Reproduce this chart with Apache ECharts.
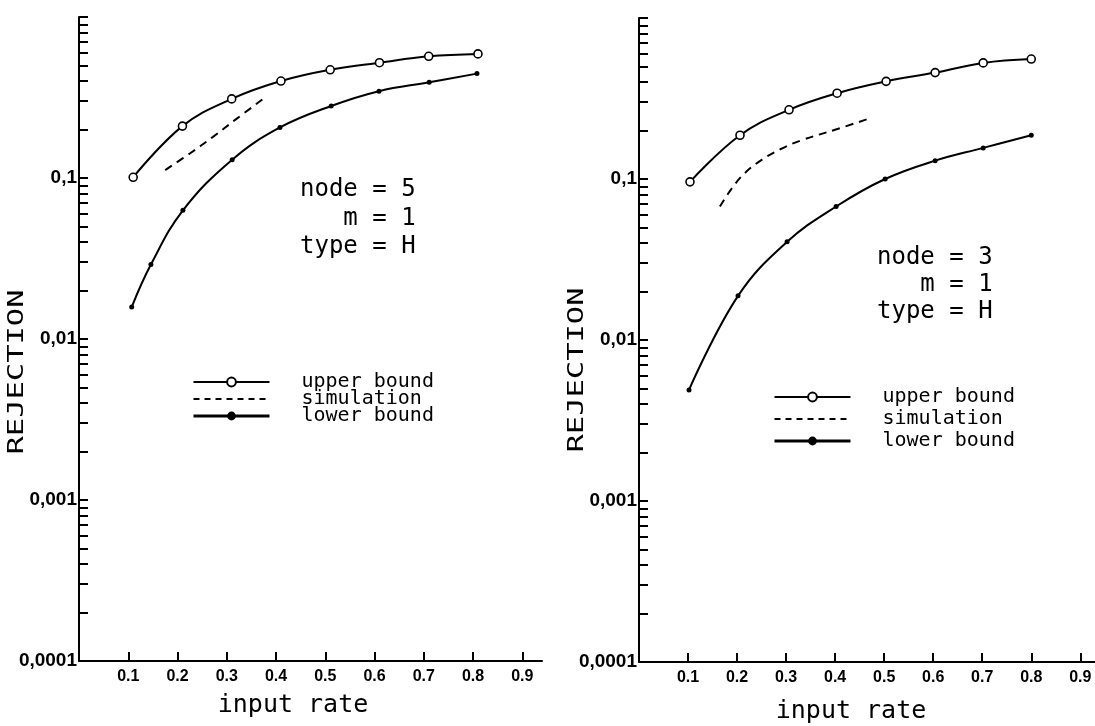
<!DOCTYPE html>
<html><head><meta charset="utf-8">
<script src="https://cdn.jsdelivr.net/npm/echarts@6/dist/echarts.min.js"></script>
<style>html,body{margin:0;padding:0;background:#fff}#c{width:1095px;height:726px}</style>
</head><body><div id="c"></div>
<script>
// ---- tick values / labels ----
const xTickValues = [0.1, 0.2, 0.3, 0.4, 0.5, 0.6, 0.7, 0.8, 0.9];
const xTickLabels = ['0.1', '0.2', '0.3', '0.4', '0.5', '0.6', '0.7', '0.8', '0.9'];
const yTickValues = [0.0001, 0.001, 0.01, 0.1];
const yTickLabels = ['0,0001', '0,001', '0,01', '0,1'];
const yAllTicks = [0.0001, 0.0002, 0.0003, 0.0004, 0.0005, 0.0006, 0.0007, 0.0008, 0.0009,
                   0.001, 0.002, 0.003, 0.004, 0.005, 0.006, 0.007, 0.008, 0.009,
                   0.01, 0.02, 0.03, 0.04, 0.05, 0.06, 0.07, 0.08, 0.09,
                   0.1, 0.2, 0.3, 0.4, 0.5, 0.6, 0.7, 0.8, 0.9, 1];
const seriesNames = ['upper bound', 'simulation', 'lower bound'];

// ---- left panel (node = 5) ----
const leftUpperX = [0.11, 0.21, 0.31, 0.41, 0.51, 0.61, 0.71, 0.81];
const leftUpperY = [0.101, 0.21, 0.31, 0.40, 0.47, 0.52, 0.57, 0.59];
const leftSimX = [0.175, 0.225, 0.272, 0.319, 0.374];
const leftSimY = [0.112, 0.142, 0.18, 0.232, 0.31];
const leftLowerX = [0.107, 0.146, 0.211, 0.311, 0.408, 0.512, 0.609, 0.711, 0.808];
const leftLowerY = [0.0158, 0.029, 0.063, 0.13, 0.206, 0.28, 0.346, 0.393, 0.445];

// ---- right panel (node = 3) ----
const rightUpperX = [0.104, 0.206, 0.306, 0.404, 0.504, 0.604, 0.702, 0.80];
const rightUpperY = [0.096, 0.187, 0.269, 0.341, 0.404, 0.458, 0.526, 0.556];
const rightSimX = [0.165, 0.19, 0.216, 0.251, 0.288, 0.329, 0.406, 0.467];
const rightSimY = [0.0675, 0.088, 0.109, 0.132, 0.153, 0.173, 0.205, 0.236];
const rightLowerX = [0.102, 0.202, 0.302, 0.402, 0.502, 0.604, 0.702, 0.80];
const rightLowerY = [0.0049, 0.0188, 0.0407, 0.0675, 0.10, 0.130, 0.156, 0.187];

const leftNote = ['node = 5', '   m = 1', 'type = H'];
const rightNote = ['node = 3', '   m = 1', 'type = H'];
const yTitle = 'REJECTION';
const xTitle = 'input rate';

const pair = (xs, ys) => xs.map((x, i) => [x, ys[i]]);
const MONO = '"DejaVu Sans Mono", "Liberation Mono", monospace';
const SANS = '"Liberation Sans", Arial, sans-serif';

function labelFor(values, labels, v) {
  for (let i = 0; i < values.length; i++) {
    if (Math.abs(Math.log10(v) - Math.log10(values[i])) < 1e-6) return labels[i];
  }
  return '';
}

function xAxisCfg(gridIndex, max) {
  return {
    type: 'value', gridIndex, min: 0, max, interval: 0.1,
    axisLine: { lineStyle: { color: '#000', width: 2 } },
    axisTick: { inside: true, length: 9, lineStyle: { color: '#000', width: 2 }, customValues: xTickValues },
    axisLabel: {
      customValues: xTickValues, margin: 8,
      formatter: v => labelFor(xTickValues, xTickLabels, v),
      color: '#000', fontSize: 16, fontWeight: 'bold', fontFamily: SANS
    },
    splitLine: { show: false }
  };
}
function yAxisCfg(gridIndex) {
  return {
    type: 'log', logBase: 10, gridIndex, min: 0.0001, max: 1,
    axisLine: { lineStyle: { color: '#000', width: 2 } },
    axisTick: { inside: true, length: 9, lineStyle: { color: '#000', width: 2 }, customValues: yAllTicks },
    axisLabel: {
      customValues: yTickValues, margin: 2,
      formatter: v => labelFor(yTickValues, yTickLabels, v),
      color: '#000', fontSize: 19, fontWeight: 'bold', fontFamily: SANS
    },
    splitLine: { show: false }, minorTick: { show: false }
  };
}
function panelSeries(idx, up, sim, low) {
  return [
    { name: seriesNames[0], type: 'line', xAxisIndex: idx, yAxisIndex: idx, data: up, smooth: 0.4,
      symbol: 'circle', symbolSize: 8,
      lineStyle: { color: '#000', width: 2 },
      itemStyle: { color: '#fff', borderColor: '#000', borderWidth: 1.6 }, z: 3 },
    { name: seriesNames[1], type: 'line', xAxisIndex: idx, yAxisIndex: idx, data: sim, smooth: 0.4,
      symbol: 'none',
      lineStyle: { color: '#000', width: 2, type: [8, 6] },
      itemStyle: { color: '#000' } },
    { name: seriesNames[2], type: 'line', xAxisIndex: idx, yAxisIndex: idx, data: low, smooth: 0.4,
      symbol: 'circle', symbolSize: 5,
      lineStyle: { color: '#000', width: 2 },
      itemStyle: { color: '#000' }, z: 3 }
  ];
}
function legendCfg(left, top, lineH, gap) {
  return {
    orient: 'vertical', left, top, itemWidth: 76, itemHeight: 11, itemGap: gap,
    selectedMode: false, padding: 0,
    data: [
      { name: seriesNames[0] },
      { name: seriesNames[1], itemStyle: { color: 'rgba(0,0,0,0)', borderColor: 'rgba(0,0,0,0)', borderWidth: 0 },
        lineStyle: { color: '#000', width: 2, type: [6, 5] } },
      { name: seriesNames[2], lineStyle: { color: '#000', width: 3 } }
    ],
    textStyle: { fontFamily: MONO, fontSize: 20, color: '#000', lineHeight: lineH, padding: [0, 0, 0, 27] }
  };
}
function noteText(lines, x, y, gap) {
  return lines.map((t, i) => ({
    type: 'text', x: x, y: y + i * gap,
    style: { text: t, font: '24px ' + MONO, fill: '#000', align: 'left', verticalAlign: 'middle' }
  }));
}
function vTitle(cx, cy) {
  return { type: 'text', x: cx, y: cy, rotation: Math.PI / 2, scaleX: 1.45,
    style: { text: yTitle, font: '21px ' + MONO, fill: '#000', align: 'center', verticalAlign: 'middle' } };
}

const chart = echarts.init(document.getElementById('c'));
chart.setOption({
  animation: false,
  backgroundColor: '#fff',
  grid: [
    { left: 79, top: 17, width: 463, height: 644 },
    { left: 639, top: 18, width: 456, height: 644 }
  ],
  xAxis: [xAxisCfg(0, 0.94), xAxisCfg(1, 0.93)],
  yAxis: [yAxisCfg(0), yAxisCfg(1)],
  legend: [legendCfg(192, 372, 17, -3), legendCfg(773, 386, 22, 0)],
  series: [
    ...panelSeries(0, pair(leftUpperX, leftUpperY), pair(leftSimX, leftSimY), pair(leftLowerX, leftLowerY)),
    ...panelSeries(1, pair(rightUpperX, rightUpperY), pair(rightSimX, rightSimY), pair(rightLowerX, rightLowerY))
  ],
  graphic: [
    ...noteText(leftNote, 300, 190, 28.5),
    ...noteText(rightNote, 877, 258, 27),
    vTitle(18, 372),
    vTitle(578, 370),
    { type: 'text', x: 293, y: 705, style: { text: xTitle, font: '25px ' + MONO, fill: '#000', align: 'center', verticalAlign: 'middle' } },
    { type: 'text', x: 851, y: 711, style: { text: xTitle, font: '25px ' + MONO, fill: '#000', align: 'center', verticalAlign: 'middle' } }
  ]
});
</script></body></html>
